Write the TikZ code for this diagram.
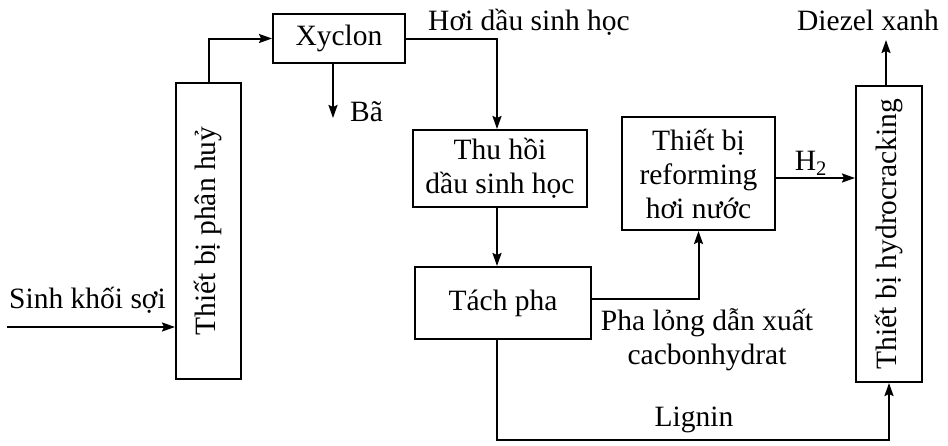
\documentclass[tikz,border=0pt]{standalone}
\usepackage{fontspec}
\setmainfont{Liberation Serif}
\usetikzlibrary{arrows.meta,positioning,calc}

\begin{document}
\begin{tikzpicture}[x=1pt,y=-1pt,font=\fontsize{29.5}{34}\selectfont,
   b/.style={draw,line width=2pt,align=center,inner sep=0pt},
   lb/.style={inner sep=0pt,align=center},
   fl/.style={-{Stealth[length=13pt,width=9pt,inset=2pt]},line width=2pt}]
  \useasboundingbox (0,0) rectangle (948,445);
  \node[b,minimum width=65pt,minimum height=296pt] (ph) at (208.5,231) {\rotatebox{90}{Thiết bị phân huỷ}};
  \node[b,minimum width=132pt,minimum height=49pt] (xy) at (339,38.5) {Xyclon};
  \node[b,minimum width=174pt,minimum height=77pt] (th) at (500,168.5) {Thu hồi\\dầu sinh học};
  \node[b,minimum width=176pt,minimum height=72pt] (tp) at (503,303) {Tách pha};
  \node[b,minimum width=153pt,minimum height=113pt] (rf) at (698.5,173.5) {Thiết bị\\reforming\\hơi nước};
  \node[b,minimum width=66pt,minimum height=296pt] (hy) at (889,234) {\rotatebox{90}{Thiết bị hydrocracking}};
  \node[lb,anchor=west] (skl) at (9,300) {Sinh khối sợi};
  \node[lb,anchor=west] (bal) at (350,112) {Bã};
  \node[lb,anchor=west] (hoi) at (428,22) {Hơi dầu sinh học};
  \node[lb] (dzl) at (868,20) {Diezel xanh};
  \node[lb] (h2) at (811,163) {H\textsubscript{2}};
  \node[lb] (pl) at (707,340) {Pha lỏng dẫn xuất\\cacbonhydrat};
  \node[lb] (lgl) at (694,420) {Lignin};
  \coordinate (in) at (7,327);
  \coordinate (ba) at (333,118);
  \coordinate (dz) at (886,40);
  \coordinate (lg) at (889,440);
  \draw[fl] (in) -- (in -| ph.west);
  \draw[fl] (ph.north) |- (xy.west);
  \draw[fl] (ba |- xy.south) -- (ba);
  \draw[fl] (xy.east) -| ([xshift=-3pt]th.north);
  \draw[fl] ([xshift=-3pt]th.south) -- ([xshift=-3pt]th.south |- tp.north);
  \draw[fl] ([yshift=4pt]tp.east) -| (rf.south);
  \draw[fl] ([yshift=-4.5pt]rf.east) -- ([yshift=-4.5pt]rf.east -| hy.west);
  \draw[fl] (dz |- hy.north) -- (dz);
  \draw[fl] ([xshift=-6pt]tp.south) |- (lg) -- (hy.south);
\end{tikzpicture}
\end{document}
